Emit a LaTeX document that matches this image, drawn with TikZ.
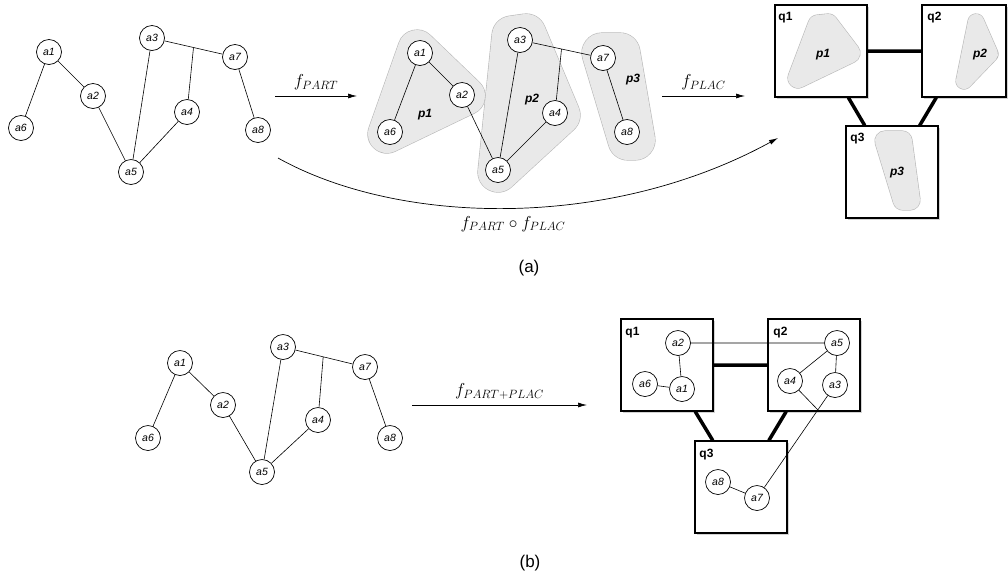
\documentclass[tikz,border=0pt]{standalone}
\usepackage{fontspec}
\setsansfont{Liberation Sans}
\usetikzlibrary{arrows.meta,calc,shadows}

\tikzset{
  vtx/.style={circle,draw,fill=white,line width=0.7pt,minimum size=25pt,inner sep=0pt,
    font=\sffamily\itshape\fontsize{10.5}{11}\selectfont},
  wire/.style={line width=0.6pt},
  blobline/.style={draw=gray!55,fill=gray!55,line join=round},
  blobfill/.style={draw=gray!17,fill=gray!17,line join=round},
  plbl/.style={font=\sffamily\bfseries\itshape\fontsize{12}{13}\selectfont},
  site/.style={draw,fill=white,line width=1.1pt,minimum width=92pt,minimum height=92pt,
    drop shadow={shadow xshift=2pt,shadow yshift=-2pt,opacity=0.35}},
  qlbl/.style={font=\sffamily\bfseries\fontsize{12}{13}\selectfont},
  link/.style={line width=3.5pt},
  map/.style={-{Latex[length=9pt,width=5pt]},line width=0.7pt},
  fn/.style={font=\fontsize{18.5}{20}\selectfont},
  sub/.style={font=\sffamily\fontsize{17}{19}\selectfont},
}

% rounded hull around a polygon: #1 = corner radius, #2 = corners
\newcommand\partblob[2]{%
  \path[blobline,line width=2*#1+1.2pt] #2 -- cycle;
  \path[blobfill,line width=2*#1] #2 -- cycle;}

\begin{document}
\begin{tikzpicture}[x=1pt,y=-1pt]
\useasboundingbox (0,0) rectangle (1008,582);

%%% (a) task graph
\node[vtx] (ga1) at (49,52) {a1};
\node[vtx] (ga2) at (93,96) {a2};
\node[vtx] (ga3) at (152,38) {a3};
\node[vtx] (ga4) at (187,112) {a4};
\node[vtx] (ga5) at (131,172) {a5};
\node[vtx] (ga6) at (21,128) {a6};
\node[vtx] (ga7) at (235,57) {a7};
\node[vtx] (ga8) at (258,130) {a8};
\coordinate (gj) at ($(ga3.center)!0.5!(ga7.center)$);
\draw[wire] (ga1) -- (ga6) (ga1) -- (ga2) (ga2) -- (ga5) (ga3) -- (ga5)
  (ga4) -- (ga5) (ga3) -- (ga7) (gj) -- (ga4) (ga7) -- (ga8);

% partitions
\partblob{19pt}{(417,49) -- (466,96) -- (387,134)}
\partblob{20pt}{(512,36) -- (526,34) -- (560,115) -- (498,172)}
\partblob{20pt}{(602,53) -- (620,53) -- (635,140) -- (628,140)}
\node[plbl] (p1) at (425,115) {p1};
\node[plbl] (p2) at (532,100) {p2};
\node[plbl] (p3) at (633,80) {p3};

\node[vtx] (pa1) at (420,53) {a1};
\node[vtx] (pa2) at (462,95) {a2};
\node[vtx] (pa3) at (520,40) {a3};
\node[vtx] (pa4) at (555,113) {a4};
\node[vtx] (pa5) at (498,170) {a5};
\node[vtx] (pa6) at (390,132) {a6};
\node[vtx] (pa7) at (603,58) {a7};
\node[vtx] (pa8) at (627,132) {a8};
\coordinate (pj) at ($(pa3.center)!0.5!(pa7.center)$);
\draw[wire] (pa1) -- (pa2) (pa1) -- (pa6) (pa2) -- (pa5) (pa3) -- (pa5)
  (pa4) -- (pa5) (pa3) -- (pa7) (pj) -- (pa4) (pa7) -- (pa8);

% sites
\node[site] (q1) at (821,51) {};
\node[site,minimum width=84pt] (q2) at (964,51) {};
\node[site] (q3) at (892,172) {};
\draw[link] (q1) -- (q2) (q1) -- (q3) (q2) -- (q3);
\node[qlbl] at ([shift={(11,13)}]q1.north west) {q1};
\node[qlbl] at ([shift={(13,13)}]q2.north west) {q2};
\node[qlbl] at ([shift={(12,13)}]q3.north west) {q3};
\partblob{10pt}{(818,25) -- (828,24) -- (850,53) -- (798,78)}
\partblob{8pt}{(976,22) -- (990,54) -- (964,81)}
\partblob{10pt}{(885,141) -- (902,141) -- (910,200) -- (903,200)}
\node[plbl] at (823,55) {p1};
\node[plbl] at (980,55) {p2};
\node[plbl] at (897,173) {p3};

% mappings
\coordinate (m1s) at (275,96);
\coordinate (m1e) at (357,96);
\coordinate (m2s) at (662,96);
\coordinate (m2e) at (745,96);
\coordinate (cs) at (278,158);
\coordinate (ce) at (778,138);
\draw[map] (m1s) -- node[above=2pt,fn] {$f_{PART}$} (m1e);
\draw[map] (m2s) -- node[above=2pt,fn] {$f_{PLAC}$} (m2e);
\draw[map] (cs) .. controls (400,226) and (610,230) .. (ce);
\node[fn] (fc) at (513,224) {$f_{PART}\circ f_{PLAC}$};
\node[sub] (capa) at (529,268) {(a)};

%%% (b) task graph
\node[vtx] (ba1) at (180,363) {a1};
\node[vtx] (ba2) at (223,405) {a2};
\node[vtx] (ba3) at (283,347) {a3};
\node[vtx] (ba4) at (318,420) {a4};
\node[vtx] (ba5) at (262,472) {a5};
\node[vtx] (ba6) at (148,438) {a6};
\node[vtx] (ba7) at (365,367) {a7};
\node[vtx] (ba8) at (390,438) {a8};
\coordinate (bj) at ($(ba3.center)!0.49!(ba7.center)$);
\draw[wire] (ba1) -- (ba6) (ba1) -- (ba2) (ba2) -- (ba5) (ba3) -- (ba5)
  (ba4) -- (ba5) (ba3) -- (ba7) (bj) -- (ba4) (ba7) -- (ba8);

\coordinate (m3s) at (412,405);
\coordinate (m3e) at (587,405);
\draw[map] (m3s) -- node[above=2pt,fn] {$f_{PART+PLAC}$} (m3e);

% sites with placed tasks
\node[site] (r1) at (667,365) {};
\node[site] (r2) at (814,365) {};
\node[site] (r3) at (741,487) {};
\draw[link] (r1) -- (r2) (r1) -- (r3) (r2) -- (r3);
\node[qlbl] at ([shift={(12,14)}]r1.north west) {q1};
\node[qlbl] at ([shift={(13,14)}]r2.north west) {q2};
\node[qlbl] at ([shift={(12,14)}]r3.north west) {q3};

\node[vtx] (ra1) at (682,389) {a1};
\node[vtx] (ra2) at (678,343) {a2};
\node[vtx] (ra3) at (835,385) {a3};
\node[vtx] (ra4) at (790,381) {a4};
\node[vtx] (ra5) at (837,343) {a5};
\node[vtx] (ra6) at (645,384) {a6};
\node[vtx] (ra7) at (757,498) {a7};
\node[vtx] (ra8) at (718,482) {a8};
\coordinate (rj) at ($(ra3.center)!0.22!(ra7.center)$);
\draw[wire] (ra2) -- (ra5) (ra2) -- (ra1) (ra6) -- (ra1) (ra5) -- (ra4)
  (ra5) -- (ra3) (ra3) -- (ra7) (ra4) -- (rj) (ra8) -- (ra7);
\node[sub] (capb) at (530,563) {(b)};
\end{tikzpicture}
\end{document}
